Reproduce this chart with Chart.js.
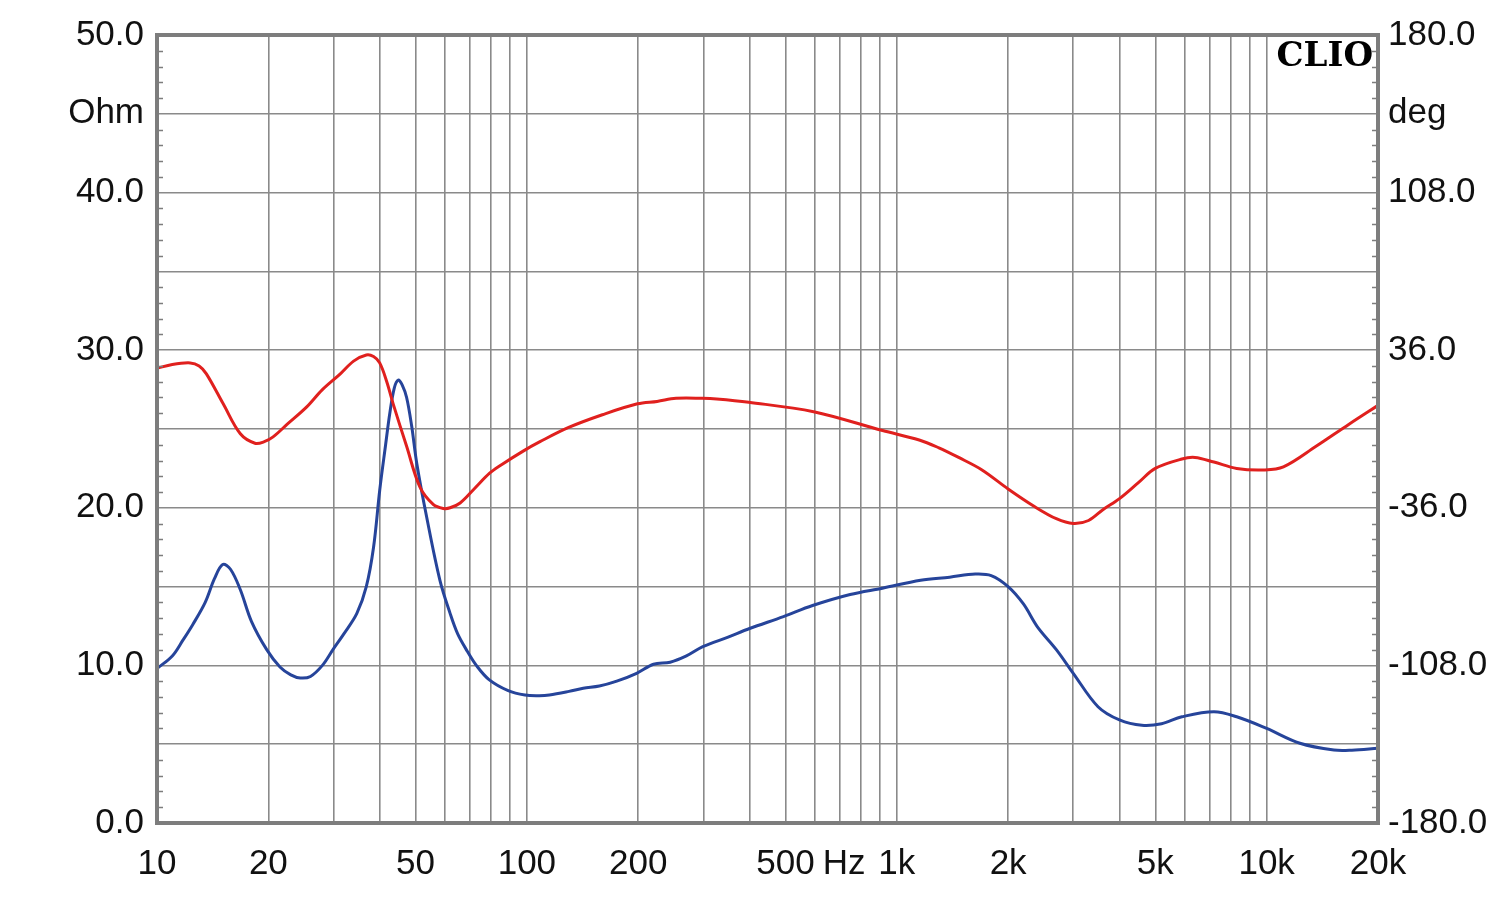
<!DOCTYPE html>
<html>
<head>
<meta charset="utf-8">
<script src="https://cdn.jsdelivr.net/npm/chart.js@4"></script>
<style>
  html, body { margin: 0; padding: 0; background: #ffffff; }
  #wrap { width: 1500px; height: 899px; }
</style>
</head>
<body>
<div id="wrap"><canvas id="c" width="1500" height="899"></canvas></div>
<script>
// ---- Data ----
const impFreq = [10, 11, 11.75, 12.5, 13.5, 14.3, 15.05, 15.8, 16.8, 18, 19.8, 21.5, 23, 24.4, 26, 28, 29.9, 32, 34.7, 36.8, 38.5, 40, 41.5, 42.6, 43.8, 44.9, 46, 47.3, 48.8, 50.4, 53.6, 58.2, 62, 65, 69, 73, 79, 89, 98.8, 108, 115, 130, 142, 157, 175, 198, 220, 244, 270, 298, 350, 400, 494, 592, 748, 915, 1160, 1390, 1630, 1800, 2000, 2200, 2400, 2700, 3000, 3500, 4000, 4600, 5200, 5900, 7200, 8300, 10000, 12300, 15200, 17000, 20000];
const impOhm = [9.8, 10.6, 11.6, 12.6, 14.0, 15.5, 16.4, 16.1, 14.8, 12.8, 11.0, 9.9, 9.4, 9.2, 9.3, 10.0, 11.0, 12.0, 13.3, 15.0, 17.5, 21.1, 24.0, 26.0, 27.6, 28.1, 27.8, 27.0, 25.2, 22.8, 19.4, 15.4, 13.3, 12.0, 10.9, 10.0, 9.1, 8.4, 8.12, 8.08, 8.12, 8.35, 8.55, 8.69, 9.0, 9.5, 10.07, 10.2, 10.6, 11.17, 11.8, 12.34, 13.1, 13.8, 14.5, 14.9, 15.4, 15.6, 15.8, 15.7, 15.0, 13.9, 12.45, 11.0, 9.5, 7.38, 6.54, 6.2, 6.3, 6.74, 7.06, 6.74, 6.0, 5.06, 4.63, 4.62, 4.74];

const phaseFreq = [10, 11, 12.3, 13.0, 13.6, 15.1, 16.8, 18.4, 19.5, 20.6, 22.5, 25.4, 28, 31.3, 34, 36.8, 38.5, 40, 41.8, 43.5, 47.3, 51.4, 55.9, 59.5, 62, 66, 72, 79.3, 86, 97.7, 108.5, 129.7, 160, 199, 225, 253, 298, 326, 398, 596, 915, 1150, 1300, 1470, 1700, 2000, 2350, 2700, 3000, 3300, 3600, 4000, 4500, 5000, 5900, 6400, 7200, 8300, 9800, 11100, 13600, 16700, 20000];
const phaseDeg = [27.7, 29.5, 30.2, 28.8, 25.2, 11.5, -2.2, -6.5, -5.8, -3.6, 2.2, 10.1, 18.0, 25.2, 31.0, 33.8, 33.1, 30.2, 21.6, 11.5, -7.9, -26.6, -34.6, -36.3, -36.0, -33.8, -27.4, -20.2, -16.0, -10.1, -5.8, 0.7, 6.5, 11.5, 12.6, 14.0, 14.0, 13.7, 12.2, 7.9, -0.7, -5.0, -8.6, -13.0, -18.7, -27.4, -35.3, -41.0, -43.2, -41.8, -37.0, -31.8, -24.5, -18.0, -13.7, -13.0, -15.1, -18.0, -18.7, -17.3, -7.9, 2.2, 10.8];

// ---- Axis tick definitions ----
const xGridValues = [10,20,30,40,50,60,70,80,90,100,200,300,400,500,600,700,800,900,1000,2000,3000,4000,5000,6000,7000,8000,9000,10000,20000];
const xTickLabels = {10:'10', 20:'20', 50:'50', 100:'100', 200:'200', 500:'500', 1000:'1k', 2000:'2k', 5000:'5k', 10000:'10k', 20000:'20k'};
const leftTickLabels = {0:'0.0', 10:'10.0', 20:'20.0', 30:'30.0', 40:'40.0', 45:'Ohm', 50:'50.0'};
const rightTickLabels = {'-180':'-180.0', '-108':'-108.0', '-36':'-36.0', '36':'36.0', '108':'108.0', '144':'deg', '180':'180.0'};
const xUnit = 'Hz';
const brand = 'CLIO';

const GRID = '#8a8a8a';
const FRAME = '#7d7d7d';
const FONT = {family: '"Liberation Sans", Arial, sans-serif', size: 35};
const XPAD = 20;

const decor = {
  id: 'decor',
  afterDraw(chart) {
    const ctx = chart.ctx, a = chart.chartArea;
    const y = chart.scales.y, x = chart.scales.x;
    ctx.save();
    // minor ticks on both vertical axes (every 1 Ohm)
    ctx.strokeStyle = FRAME;
    ctx.lineWidth = 1.5;
    for (let v = 1; v < 50; v++) {
      if (v % 5 === 0) continue;
      const py = Math.round(y.getPixelForValue(v)) + 0.5;
      ctx.beginPath();
      ctx.moveTo(a.left, py); ctx.lineTo(a.left + 6, py);
      ctx.moveTo(a.right - 6, py); ctx.lineTo(a.right, py);
      ctx.stroke();
    }
    // frame
    ctx.lineWidth = 4;
    ctx.strokeStyle = FRAME;
    ctx.strokeRect(a.left, a.top, a.right - a.left, a.bottom - a.top);
    // brand text
    ctx.fillStyle = '#000';
    ctx.font = 'bold 34px "DejaVu Serif", "Liberation Serif", serif';
    ctx.textAlign = 'right';
    ctx.textBaseline = 'alphabetic';
    ctx.fillText(brand, a.right - 5, a.top + 31);
    // unit text on x axis between 500 and 1k labels
    ctx.font = '35px "Liberation Sans", Arial, sans-serif';
    ctx.textAlign = 'center';
    ctx.textBaseline = 'middle';
    ctx.fillStyle = '#111';
    const hx = (x.getPixelForValue(500) + x.getPixelForValue(1000)) / 2 + 3;
    ctx.fillText(xUnit, hx, a.bottom + XPAD + 21);
    ctx.restore();
  }
};

new Chart(document.getElementById('c'), {
  type: 'line',
  data: {
    datasets: [
      {
        label: 'Phase',
        data: phaseFreq.map((f, i) => ({x: f, y: phaseDeg[i]})),
        yAxisID: 'y2',
        borderColor: '#e0201e',
        borderWidth: 3,
        pointRadius: 0,
        tension: 0.35,
        fill: false,
        order: 1
      },
      {
        label: 'Impedance',
        data: impFreq.map((f, i) => ({x: f, y: impOhm[i]})),
        yAxisID: 'y',
        borderColor: '#26449a',
        borderWidth: 3,
        pointRadius: 0,
        tension: 0.35,
        fill: false,
        order: 2
      }
    ]
  },
  options: {
    responsive: false,
    animation: false,
    events: [],
    layout: {padding: {top: 35, left: 0, right: 0, bottom: 0}},
    plugins: {legend: {display: false}, tooltip: {enabled: false}},
    scales: {
      x: {
        type: 'logarithmic',
        min: 10, max: 20000,
        position: 'bottom',
        afterBuildTicks(scale) { scale.ticks = xGridValues.map(v => ({value: v})); },
        afterFit(scale) { scale.height = 76; },
        ticks: {
          autoSkip: false, maxRotation: 0, minRotation: 0,
          padding: XPAD, color: '#111', font: FONT,
          callback(v) { return xTickLabels[v] !== undefined ? xTickLabels[v] : ''; }
        },
        grid: {color: GRID, lineWidth: 1.6, drawTicks: false},
        border: {display: false}
      },
      y: {
        type: 'linear',
        min: 0, max: 50,
        position: 'left',
        afterFit(scale) { scale.width = 157; },
        ticks: {
          stepSize: 5, padding: 13, color: '#111', font: FONT,
          callback(v) { return leftTickLabels[v] !== undefined ? leftTickLabels[v] : ''; }
        },
        grid: {color: GRID, lineWidth: 1.6, drawTicks: false},
        border: {display: false}
      },
      y2: {
        type: 'linear',
        min: -180, max: 180,
        position: 'right',
        afterFit(scale) { scale.width = 122; },
        ticks: {
          stepSize: 36, padding: 10, color: '#111', font: FONT,
          callback(v) { const k = String(Math.round(v)); return rightTickLabels[k] !== undefined ? rightTickLabels[k] : ''; }
        },
        grid: {drawOnChartArea: false, drawTicks: false},
        border: {display: false}
      }
    }
  },
  plugins: [decor]
});
</script>
</body>
</html>
